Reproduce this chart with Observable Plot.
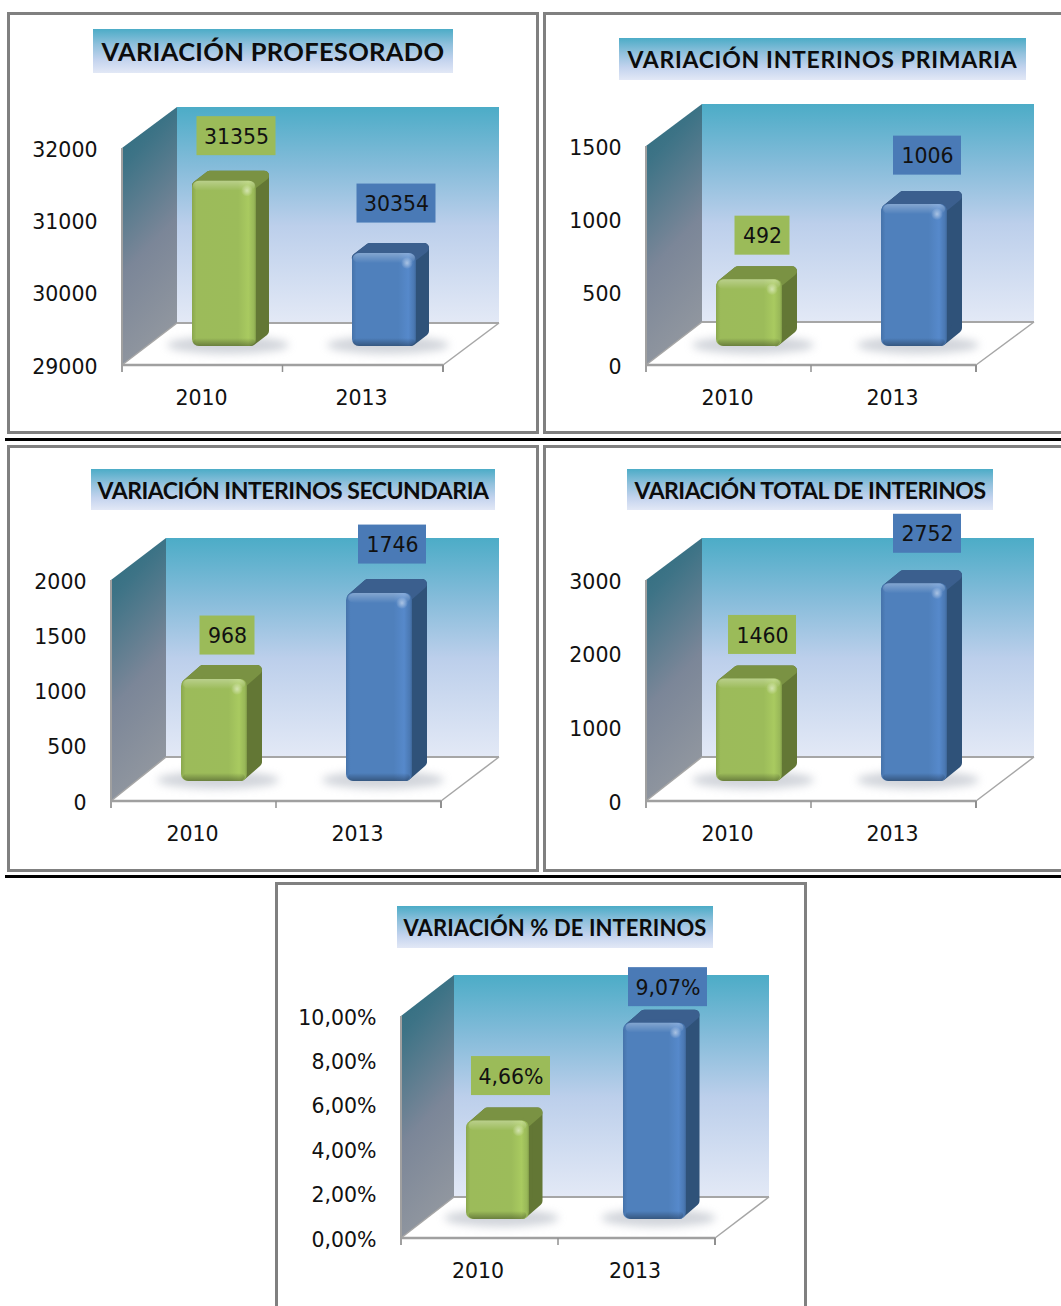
<!DOCTYPE html>
<html><head><meta charset="utf-8">
<script src="https://cdn.jsdelivr.net/npm/d3@7"></script>
<script src="https://cdn.jsdelivr.net/npm/@observablehq/plot@0.6"></script>
<style>
html,body{margin:0;padding:0;background:#fff;width:1061px;height:1306px;overflow:hidden}
#page{position:relative;width:1061px;height:1306px;overflow:hidden}
.frame{position:absolute;box-sizing:border-box;border:3px solid #808080}
.title{position:absolute;background:linear-gradient(#4cacc7 0%,#8fc0dc 35%,#c3d3ee 70%,#e2e8f6 100%);color:#0c0c0c;font-family:Lato,"Open Sans",sans-serif;font-weight:700;white-space:nowrap;display:flex;align-items:center}
.rule{position:absolute;left:5px;width:1056px;height:3px;background:#000}
svg.chart{position:absolute;overflow:visible}
</style></head><body>
<svg width="0" height="0" style="position:absolute">
<defs>
<linearGradient id="wall" x1="0" y1="0" x2="0" y2="1"><stop offset="0" stop-color="#4cacc7"/><stop offset=".28" stop-color="#86bcda"/><stop offset=".55" stop-color="#bccfeb"/><stop offset="1" stop-color="#e3e9f6"/></linearGradient>
<linearGradient id="side" x1="0" y1="0" x2=".22" y2="1"><stop offset="0" stop-color="#2b6c7e"/><stop offset=".22" stop-color="#3d7386"/><stop offset=".62" stop-color="#7b8698"/><stop offset="1" stop-color="#90969f"/></linearGradient>
<linearGradient id="face0" x1="0" x2="1" y1="0" y2="0"><stop offset="0" stop-color="#8aa74d"/><stop offset=".07" stop-color="#9cbb5a"/><stop offset=".72" stop-color="#9cbc5a"/><stop offset=".88" stop-color="#a9ca60"/><stop offset=".97" stop-color="#98b758"/><stop offset="1" stop-color="#7f9a46"/></linearGradient>
<linearGradient id="face1" x1="0" x2="1" y1="0" y2="0"><stop offset="0" stop-color="#4673aa"/><stop offset=".07" stop-color="#4f80bc"/><stop offset=".72" stop-color="#4f80bc"/><stop offset=".88" stop-color="#5689cb"/><stop offset=".97" stop-color="#4a78b2"/><stop offset="1" stop-color="#3e6799"/></linearGradient>
<linearGradient id="rimTop" x1="0" x2="0" y1="0" y2="1"><stop offset="0" stop-color="#fff" stop-opacity=".3"/><stop offset="1" stop-color="#fff" stop-opacity="0"/></linearGradient>
<linearGradient id="rimBot" x1="0" x2="0" y1="0" y2="1"><stop offset="0" stop-color="#000" stop-opacity="0"/><stop offset="1" stop-color="#000" stop-opacity=".32"/></linearGradient>
<radialGradient id="spot"><stop offset="0" stop-color="#fff" stop-opacity=".5"/><stop offset="1" stop-color="#fff" stop-opacity="0"/></radialGradient>
<filter id="blur" x="-30%" y="-80%" width="160%" height="260%"><feGaussianBlur stdDeviation="4"/></filter>
</defs></svg>
<div id="page"></div>
<script>
const years = ["2010", "2013"];
const titles = ["VARIACIÓN PROFESORADO", "VARIACIÓN INTERINOS PRIMARIA", "VARIACIÓN INTERINOS SECUNDARIA", "VARIACIÓN TOTAL DE INTERINOS", "VARIACIÓN % DE INTERINOS"];
const profesorado = [31355, 30354];
const primaria = [492, 1006];
const secundaria = [968, 1746];
const totalInterinos = [1460, 2752];
const porcentaje = [4.66, 9.07];
const ticksProfesorado = [29000, 30000, 31000, 32000];
const ticksPrimaria = [0, 500, 1000, 1500];
const ticksSecundaria = [0, 500, 1000, 1500, 2000];
const ticksTotal = [0, 1000, 2000, 3000];
const ticksPorcentaje = [0, 2, 4, 6, 8, 10];

const pct = v => v.toFixed(2).replace(".", ",") + "%";
const plain = v => String(v);

const panels = [
  {title:titles[0], values:profesorado, ticks:ticksProfesorado, fmt:plain, frame:[7,12,532,422], front:[122,443,148,365], back:[177,499,107,323], tbox:[93,29,360,44], ttext:343, tsize:25.5, face:[21,-19], depth:[13,-10], lx:33, ly:[-59,-64], bw:64},
  {title:titles[1], values:primaria, ticks:ticksPrimaria, fmt:plain, frame:[543,12,530,422], front:[646,976,146,365], back:[702,1034,104,322], tbox:[619,38,407,42], ttext:390, tsize:23, face:[20,-19], depth:[16,-13], lx:33, ly:[-58,-63], bw:64},
  {title:titles[2], values:secundaria, ticks:ticksSecundaria, fmt:plain, frame:[7,445,532,427], front:[111,441,580,801], back:[166,499,538,757], tbox:[91,469,404,41], ttext:391, tsize:23, face:[20,-20], depth:[16,-14], lx:33, ly:[-59,-64], bw:64},
  {title:titles[3], values:totalInterinos, ticks:ticksTotal, fmt:plain, frame:[543,445,530,427], front:[646,976,580,801], back:[702,1034,538,757], tbox:[627,469,366,41], ttext:351, tsize:23, face:[20,-20], depth:[16,-13], lx:33, ly:[-59,-65], bw:64},
  {title:titles[4], values:porcentaje, ticks:ticksPorcentaje, fmt:pct, frame:[275,882,532,440], front:[401,715,1016,1238], back:[454,769,975,1197], tbox:[397,906,316,42], ttext:303, tsize:22, face:[18,-19], depth:[15,-13], lx:31, ly:[-59,-50], bw:60}
];
const palette = [
  {side:"#637735", top:"#7a9243", box:"#9bbb59"},
  {side:"#2f5279", top:"#3b5f8e", box:"#4a7ab6"}
];
const boxWidth = {3:55, 4:68, 5:79};
const page = document.getElementById("page");

[438, 875].forEach(y => {
  const r = document.createElement("div");
  r.className = "rule"; r.style.top = y + "px"; page.appendChild(r);
});

panels.forEach(p => {
  const [fx, fy, fw, fh] = p.frame;
  const [x0, x1, yTop, yBot] = p.front;
  const [bx0, bx1, byTop, byBot] = p.back;

  const frame = document.createElement("div");
  frame.className = "frame";
  Object.assign(frame.style, {left: fx + "px", top: fy + "px", width: fw + "px", height: fh + "px"});
  page.appendChild(frame);

  const t = document.createElement("div");
  t.className = "title";
  Object.assign(t.style, {left: p.tbox[0] + "px", top: p.tbox[1] + "px", width: p.tbox[2] + "px", height: p.tbox[3] + "px", fontSize: p.tsize + "px", justifyContent: "center"});
  const span = document.createElement("span");
  span.textContent = p.title;
  t.appendChild(span);
  page.appendChild(t);
  const w = span.getBoundingClientRect().width;
  span.style.letterSpacing = ((p.ttext - w) / p.title.length) + "px";

  const rows = years.map((year, i) => ({year, value: p.values[i], i}));
  const yMin = p.ticks[0];
  const [fdx, fdy] = p.face;
  const [ddx, ddy] = p.depth;
  const inset = 5;

  // Middle of a year's band, taken from the band scale itself.
  const mid = (year, s) => {
    const bw = s.x.bandwidth;
    const width = typeof bw === "function" ? bw() : bw;
    return s.x(year) + (width || 0) / 2;
  };

  const geom = (d, s) => {
    const c = mid(d.year, s) + fdx;
    return {a: c - p.bw / 2, b: c + p.bw / 2, top: s.y(d.value) + fdy + inset, bot: s.y(yMin) + fdy};
  };

  const room = () => {
    const g = d3.create("svg:g").attr("transform", `translate(${-fx},${-fy})`);
    g.append("polygon").attr("points", `${x0},${yBot} ${bx0},${byBot} ${bx1},${byBot} ${x1},${yBot}`).attr("fill", "#fff");
    g.append("rect").attr("x", bx0).attr("y", byTop).attr("width", bx1 - bx0).attr("height", byBot - byTop).attr("fill", "url(#wall)");
    g.append("polygon").attr("points", `${x0},${yTop} ${bx0},${byTop} ${bx0},${byBot} ${x0},${yBot}`).attr("fill", "url(#side)");
    const line = (a, b, c, e, col, sw) => g.append("line").attr("x1", a).attr("y1", b).attr("x2", c).attr("y2", e).attr("stroke", col).attr("stroke-width", sw);
    line(bx0, byBot, bx1, byBot, "#a6a6a6", 2);
    line(bx1, byBot, x1, yBot, "#a6a6a6", 1.5);
    line(x0, yBot, bx0, byBot, "#a6a6a6", 1.5);
    line(x0, yTop, x0, yBot + 7, "#a0a0a0", 2);
    line(x0, yBot, x1, yBot, "#a0a0a0", 2.5);
    line(x1, yBot, x1, yBot + 7, "#909090", 2);
    line((x0 + x1) / 2, yBot, (x0 + x1) / 2, yBot + 7, "#909090", 1.5);
    return g.node();
  };

  const shadows = (_i, s) => {
    const g = d3.create("svg:g");
    rows.forEach(d => {
      const b = geom(d, s);
      g.append("ellipse").attr("cx", (b.a + b.b) / 2 + 4).attr("cy", b.bot - 1).attr("rx", p.bw * 0.95).attr("ry", 9)
        .attr("fill", "#c6cad2").attr("opacity", .8).attr("filter", "url(#blur)");
    });
    return g.node();
  };

  const prisms = (_i, s) => {
    const g = d3.create("svg:g");
    rows.forEach(d => {
      const {a, b, top, bot} = geom(d, s);
      const col = palette[d.i];
      const r = 5;
      g.append("polygon")
        .attr("points", `${a + r},${top + r} ${a + ddx + r},${top + ddy + r} ${b + ddx - r},${top + ddy + r} ${b + ddx - r},${bot + ddy - r} ${b - r},${bot - r}`)
        .attr("fill", col.side).attr("stroke", col.side).attr("stroke-width", 2 * r).attr("stroke-linejoin", "round");
      g.append("polygon")
        .attr("points", `${a + r},${top + r} ${a + ddx + r},${top + ddy + r} ${b + ddx - r},${top + ddy + r} ${b - r},${top + r}`)
        .attr("fill", col.top).attr("stroke", col.top).attr("stroke-width", 2 * r).attr("stroke-linejoin", "round");
    });
    return g.node();
  };

  const gloss = (_i, s) => {
    const g = d3.create("svg:g");
    rows.forEach(d => {
      const {a, b, top, bot} = geom(d, s);
      g.append("rect").attr("x", a + 1).attr("y", top).attr("width", b - a - 2).attr("height", 10).attr("rx", 7).attr("fill", "url(#rimTop)");
      g.append("rect").attr("x", a + 1).attr("y", bot - 8).attr("width", b - a - 2).attr("height", 8).attr("rx", 6).attr("fill", "url(#rimBot)");
      g.append("circle").attr("cx", b - 9).attr("cy", top + 10).attr("r", 6).attr("fill", "url(#spot)");
    });
    return g.node();
  };

  const boxes = (_i, s) => {
    const g = d3.create("svg:g");
    rows.forEach(d => {
      const cx = mid(d.year, s) + p.lx;
      const cy = s.y(d.value) + p.ly[d.i];
      const bw = boxWidth[p.fmt(d.value).length];
      g.append("rect").attr("x", cx - bw / 2).attr("y", cy - 19.5).attr("width", bw).attr("height", 39).attr("fill", palette[d.i].box);
    });
    return g.node();
  };

  const chart = Plot.plot({
    width: fw, height: fh,
    marginLeft: x0 - fx, marginRight: fx + fw - x1,
    marginTop: yTop - fy, marginBottom: fy + fh - yBot,
    x: {type: "band", domain: years, paddingInner: 0.6, paddingOuter: 0.3, label: null},
    y: {domain: [yMin, p.ticks[p.ticks.length - 1]], label: null, nice: false},
    style: {fontFamily: '"DejaVu Sans", sans-serif', fontSize: "20.5px", color: "#111", background: "transparent", overflow: "visible"},
    marks: [
      room, shadows, prisms,
      ...rows.map(d => Plot.barY([d], {x: "year", y1: () => yMin, y2: "value", fill: `url(#face${d.i})`, dx: fdx, dy: fdy, insetTop: inset, rx: 7})),
      gloss, boxes,
      ...rows.map(d => Plot.text([d], {x: "year", y: "value", text: r => p.fmt(r.value), dx: p.lx, dy: p.ly[d.i] + 1, fill: "#111", fontSize: 20.5, textAnchor: "middle", lineAnchor: "middle"})),
      Plot.axisX({tickSize: 0, tickPadding: 25, dx: -2, label: null, fontSize: 20.5, fill: "#111"}),
      Plot.axisY({anchor: "left", ticks: p.ticks, tickSize: 0, tickPadding: 25, dy: 1.5, label: null, tickFormat: p.fmt, fontSize: 20.5, fill: "#111"})
    ]
  });
  chart.classList.add("chart");
  chart.style.left = fx + "px";
  chart.style.top = fy + "px";
  page.appendChild(chart);
});
</script>
</body></html>
